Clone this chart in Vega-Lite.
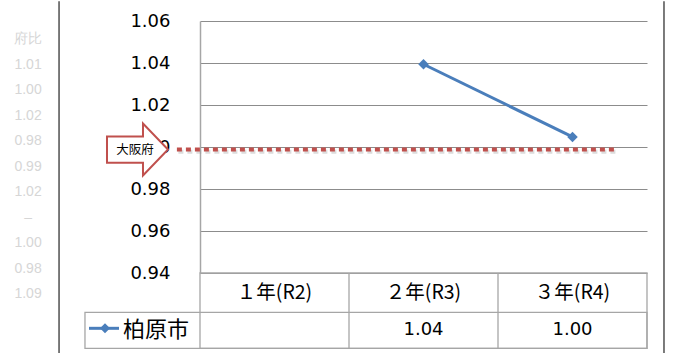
{
  "$schema": "https://vega.github.io/schema/vega-lite/v6.json",
  "padding": {"left": 14, "top": 0, "right": 0, "bottom": 0},
  "bounds": "flush",
  "spacing": 0,
  "background": "white",
  "config": {
    "view": {"stroke": null},
    "font": "DejaVu Sans"
  },
  "datasets": {
    "柏原市": [
      {"年度": "１年(R2)", "順": 1, "値": null},
      {"年度": "２年(R3)", "順": 2, "値": 1.0394},
      {"年度": "３年(R4)", "順": 3, "値": 1.0048}
    ],
    "大阪府": [{"名称": "大阪府", "値": 0.9988}],
    "府比": [
      {"行": 0, "表示": "府比"},
      {"行": 1, "表示": "1.01"},
      {"行": 2, "表示": "1.00"},
      {"行": 3, "表示": "1.02"},
      {"行": 4, "表示": "0.98"},
      {"行": 5, "表示": "0.99"},
      {"行": 6, "表示": "1.02"},
      {"行": 7, "表示": "–"},
      {"行": 8, "表示": "1.00"},
      {"行": 9, "表示": "0.98"},
      {"行": 10, "表示": "1.09"}
    ]
  },
  "vconcat": [
    {
      "width": 447,
      "height": 252,
      "layer": [
        {
          "layer": [
            {
              "data": {"name": "柏原市"},
              "transform": [{"filter": "isValid(datum['値'])"}],
              "mark": {"type": "line", "color": "#4a7ebb", "strokeWidth": 3},
              "encoding": {
                "x": {"field": "順", "type": "quantitative", "scale": {"domain": [0.5, 3.5], "nice": false, "zero": false}, "axis": null},
                "y": {
                  "field": "値", "type": "quantitative",
                  "scale": {"domain": [0.94, 1.06], "nice": false, "zero": false},
                  "axis": {
                    "values": [0.94, 0.96, 0.98, 1.0, 1.02, 1.04, 1.06],
                    "format": ".2f",
                    "title": null,
                    "ticks": false,
                    "labelPadding": 30,
                    "labelFont": "DejaVu Sans",
                    "labelFontSize": 18,
                    "labelColor": "#000000",
                    "labelOverlap": false,
                    "domainColor": "#a6a6a6",
                    "domainWidth": 1.5,
                    "gridColor": "#8c8c8c",
                    "gridWidth": 1
                  }
                }
              }
            },
            {
              "data": {"name": "柏原市"},
              "transform": [{"filter": "isValid(datum['値'])"}],
              "mark": {"type": "point", "shape": "diamond", "filled": true, "size": 110, "color": "#4a7ebb", "opacity": 1},
              "encoding": {
                "x": {"field": "順", "type": "quantitative"},
                "y": {"field": "値", "type": "quantitative"}
              }
            },
            {
              "data": {"name": "大阪府"},
              "mark": {"type": "rule", "color": "#9a9a9a", "opacity": 0.35, "strokeWidth": 4, "strokeDash": [5, 4]},
              "encoding": {
                "x": {"datum": 0.355, "type": "quantitative"},
                "x2": {"datum": 3.305},
                "y": {"datum": 0.9977, "type": "quantitative"}
              }
            },
            {
              "data": {"name": "大阪府"},
              "mark": {"type": "rule", "color": "#c0504d", "strokeWidth": 4, "strokeDash": [5, 4]},
              "encoding": {
                "x": {"datum": 0.345, "type": "quantitative"},
                "x2": {"datum": 3.3},
                "y": {"field": "値", "type": "quantitative"}
              }
            },
            {
              "data": {"name": "大阪府"},
              "mark": {
                "type": "point",
                "shape": "M-1,-0.43L0.18,-0.43L0.18,-0.85L1,0L0.18,0.85L0.18,0.43L-1,0.43Z",
                "size": 3721,
                "filled": true,
                "fill": "#ffffff",
                "stroke": "#c0504d",
                "strokeWidth": 2,
                "opacity": 1,
                "fillOpacity": 1,
                "strokeOpacity": 1
              },
              "encoding": {
                "x": {"datum": 0.0805, "type": "quantitative"},
                "y": {"field": "値", "type": "quantitative"}
              }
            },
            {
              "data": {"name": "大阪府"},
              "mark": {"type": "text", "font": "Noto Sans CJK JP", "fontSize": 12.5, "color": "#000000"},
              "encoding": {
                "x": {"datum": 0.064, "type": "quantitative"},
                "y": {"field": "値", "type": "quantitative"},
                "text": {"field": "名称"}
              }
            },
            {
              "data": {"values": [{}]},
              "mark": {"type": "rule", "color": "#505050", "strokeWidth": 1.5},
              "encoding": {
                "x": {"datum": -0.446, "type": "quantitative"},
                "y": {"datum": 1.0694, "type": "quantitative"},
                "y2": {"datum": 0.9018}
              }
            },
            {
              "data": {"values": [{}]},
              "mark": {"type": "rule", "color": "#505050", "strokeWidth": 1.5},
              "encoding": {
                "x": {"datum": 3.614, "type": "quantitative"},
                "y": {"datum": 1.0694, "type": "quantitative"},
                "y2": {"datum": 0.9018}
              }
            }
          ]
        },
        {
          "data": {"name": "府比"},
          "mark": {"type": "text", "font": "Liberation Sans", "fontSize": 14, "color": "#d6d6d6"},
          "encoding": {
            "x": {"datum": -0.654, "type": "quantitative"},
            "y": {"field": "行", "type": "quantitative", "scale": {"domain": [-0.7176, 9.165], "nice": false, "zero": false, "reverse": true}, "axis": null},
            "text": {"field": "表示"}
          }
        }
      ],
      "resolve": {"scale": {"y": "independent"}}
    },
    {
      "width": 447,
      "height": 75.3,
      "layer": [
        {
          "data": {"values": [{}]},
          "mark": {"type": "rect", "filled": false, "stroke": "#a6a6a6", "strokeWidth": 1.3},
          "encoding": {
            "x": {"datum": 0.5, "type": "quantitative", "scale": {"domain": [0.5, 3.5], "nice": false, "zero": false}, "axis": null},
            "x2": {"datum": 3.5},
            "y": {"datum": 0, "type": "quantitative", "scale": {"domain": [0, 2], "nice": false, "zero": false, "reverse": true}, "axis": null},
            "y2": {"datum": 2}
          }
        },
        {
          "data": {"values": [{}]},
          "mark": {"type": "rect", "filled": false, "stroke": "#a6a6a6", "strokeWidth": 1.3},
          "encoding": {
            "x": {"datum": -0.272, "type": "quantitative"},
            "x2": {"datum": 3.5},
            "y": {"datum": 1.044, "type": "quantitative"},
            "y2": {"datum": 2}
          }
        },
        {
          "data": {"values": [{}]},
          "mark": {"type": "rule", "color": "#a6a6a6", "strokeWidth": 1.3},
          "encoding": {
            "x": {"datum": 1.5, "type": "quantitative"},
            "y": {"datum": 0, "type": "quantitative"},
            "y2": {"datum": 2}
          }
        },
        {
          "data": {"values": [{}]},
          "mark": {"type": "rule", "color": "#a6a6a6", "strokeWidth": 1.3},
          "encoding": {
            "x": {"datum": 2.5, "type": "quantitative"},
            "y": {"datum": 0, "type": "quantitative"},
            "y2": {"datum": 2}
          }
        },
        {
          "data": {"name": "柏原市"},
          "mark": {"type": "text", "font": "Noto Sans CJK JP", "fontSize": 19.5, "color": "#000000"},
          "encoding": {
            "x": {"field": "順", "type": "quantitative"},
            "y": {"datum": 0.523, "type": "quantitative"},
            "text": {"field": "年度"}
          }
        },
        {
          "data": {"name": "柏原市"},
          "transform": [{"filter": "isValid(datum['値'])"}],
          "mark": {"type": "text", "font": "DejaVu Sans", "fontSize": 18, "color": "#000000"},
          "encoding": {
            "x": {"field": "順", "type": "quantitative"},
            "y": {"datum": 1.522, "type": "quantitative"},
            "text": {"field": "値", "type": "quantitative", "format": ".2f"}
          }
        },
        {
          "data": {"values": [{}]},
          "mark": {"type": "rule", "color": "#4a7ebb", "strokeWidth": 3},
          "encoding": {
            "x": {"datum": -0.245, "type": "quantitative"},
            "x2": {"datum": -0.0436},
            "y": {"datum": 1.469, "type": "quantitative"}
          }
        },
        {
          "data": {"values": [{}]},
          "mark": {"type": "point", "shape": "diamond", "filled": true, "size": 100, "color": "#4a7ebb", "opacity": 1},
          "encoding": {
            "x": {"datum": -0.1376, "type": "quantitative"},
            "y": {"datum": 1.469, "type": "quantitative"}
          }
        },
        {
          "data": {"values": [{}]},
          "mark": {"type": "text", "font": "Noto Sans CJK JP", "fontSize": 22, "align": "left", "color": "#000000"},
          "encoding": {
            "x": {"datum": -0.0168, "type": "quantitative"},
            "y": {"datum": 1.522, "type": "quantitative"},
            "text": {"value": "柏原市"}
          }
        }
      ]
    }
  ]
}
